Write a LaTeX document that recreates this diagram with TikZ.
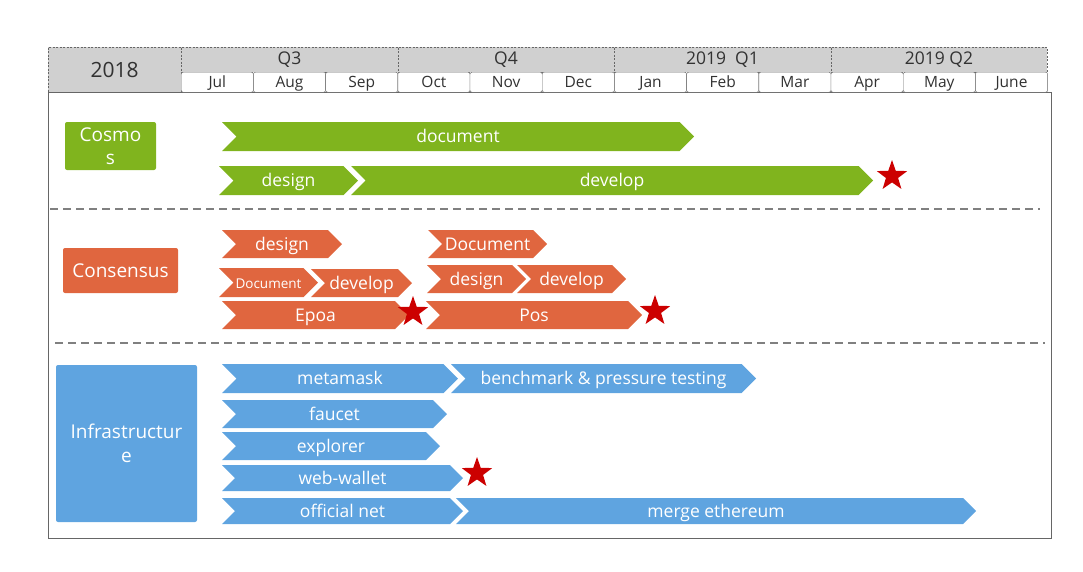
\documentclass[tikz,border=0pt]{standalone}
\usepackage{fontspec}
\setmainfont{Open Sans}
\usetikzlibrary{shapes.geometric}
\definecolor{cgreen}{RGB}{128,180,30}
\definecolor{corange}{RGB}{224,102,63}
\definecolor{cblue}{RGB}{95,164,224}
\definecolor{cstar}{RGB}{204,0,0}
\definecolor{hgray}{RGB}{208,208,208}
\definecolor{htext}{RGB}{50,50,50}
\tikzset{hdr/.style = {draw = black!60, dash pattern = on 2pt off 1.5pt, fill = hgray, text = htext, inner sep = 0}}
\tikzset{month/.style = {draw = black!60, fill = white, rounded corners = 2pt, text = htext, inner sep = 0,
  text height = 11pt, text depth = 0pt, font = \fontsize{15.5}{15.5}\selectfont}}
\tikzset{bartext/.style = {text = white, inner sep = 0, text height = 12.5pt, text depth = 0pt,
  font = \fontsize{17.5}{17.5}\selectfont}}
\tikzset{grp/.style = {rounded corners = 2pt, text = white, align = center, inner sep = 0, font = \fontsize{19}{23}\selectfont}}
\tikzset{milestone/.style = {star, star points = 5, star point ratio = 2.5, fill = cstar, minimum size = 32, inner sep = 0}}
\tikzset{sep/.style = {draw = black!50, line width = 1.5, dash pattern = on 8 off 5}}
% name, colour, left, right point, top, bottom, text
\newcommand{\taskbar}[7]{%
  \fill [#2] (#3, #5) -- ({#4 - (#6 - #5)/2}, #5) -- (#4, {(#5 + #6)/2})
    -- ({#4 - (#6 - #5)/2}, #6) -- (#3, #6) -- ({#3 + (#6 - #5)/2}, {(#5 + #6)/2}) -- cycle;
  \node [bartext] (#1) at ({(#3 + #4)/2}, {(#5 + #6)/2}) {#7};}

\begin{document}
\begin{tikzpicture}[x = 1pt, y = -1pt]
    \useasboundingbox (0, 0) rectangle (1083, 571);
    \draw [black!60, line width = 1] (48, 92) rectangle (1051, 538);

    % header
    \node [hdr, anchor = north west, minimum width = 133, minimum height = 45,
      font = \fontsize{21}{21}\selectfont] (year) at (48, 47) {2018};
    \foreach \i/\q in {0/Q3, 1/Q4, 2/{2019\ \ Q1}, 3/{2019 Q2}}
      \node [hdr, anchor = north west, minimum width = 216.5, minimum height = 25,
        font = \fontsize{17.5}{17.5}\selectfont] (q\i) at ({181 + 216.5*\i}, 47) {\q};
    \foreach \i/\m in {0/Jul, 1/Aug, 2/Sep, 3/Oct, 4/Nov, 5/Dec,
      6/Jan, 7/Feb, 8/Mar, 9/Apr, 10/May, 11/June}
      \node [month, anchor = north west, minimum width = 72.2, minimum height = 20]
        (m\i) at ({181 + 72.2*\i}, 72) {\m};

    % groups
    \node [grp, fill = cgreen, minimum width = 91, minimum height = 48] (cosmos)
      at (110.5, 146) {Cosmo\\s};
    \node [grp, fill = corange, minimum width = 115, minimum height = 45] (consensus)
      at (120.5, 270.5) {Consensus};
    \node [grp, fill = cblue, minimum width = 141, minimum height = 157, font = \fontsize{19}{24}\selectfont]
      (infra) at (126.5, 443.5) {Infrastructur\\e};

    \draw [sep] (50, 209) -- (1040, 209);
    \draw [sep] (55, 343) -- (1045, 343);

    % cosmos
    \taskbar{cosDoc}{cgreen}{222}{694}{122}{151}{document}
    \taskbar{cosDesign}{cgreen}{219}{358}{166}{195}{design}
    \taskbar{cosDevelop}{cgreen}{351}{873}{166}{195}{develop}
    \node [milestone] (cosStar) at (892, 176) {};

    % consensus
    \taskbar{conDesign}{corange}{222}{342}{230}{258}{design}
    \taskbar{conDocA}{corange}{219}{318}{268}{297}{\fontsize{13.5}{13.5}\selectfont Document}
    \taskbar{conDevelopA}{corange}{311}{412}{269}{297}{develop}
    \taskbar{conEpoa}{corange}{222}{409}{301}{329}{Epoa}
    \node [milestone] (epoaStar) at (413, 312) {};
    \taskbar{conDocB}{corange}{428}{547}{230}{258}{Document}
    \taskbar{conDesignB}{corange}{427}{526}{265}{293}{design}
    \taskbar{conDevelopB}{corange}{517}{626}{265}{293}{develop}
    \taskbar{conPos}{corange}{426}{642}{301}{329}{Pos}
    \node [milestone] (posStar) at (655, 311) {};

    % infrastructure
    \taskbar{infMeta}{cblue}{222}{458}{364}{393}{metamask}
    \taskbar{infBench}{cblue}{451}{756}{364}{393}{benchmark \& pressure testing}
    \taskbar{infFaucet}{cblue}{222}{447}{400}{428}{faucet}
    \taskbar{infExplorer}{cblue}{222}{440}{432}{460}{explorer}
    \taskbar{infWallet}{cblue}{222}{463}{465}{491}{web-wallet}
    \node [milestone] (walletStar) at (477, 473) {};
    \taskbar{infNet}{cblue}{222}{463}{498}{524}{official net}
    \taskbar{infMerge}{cblue}{456}{976}{498}{524}{merge ethereum}
  \end{tikzpicture}
\end{document}
